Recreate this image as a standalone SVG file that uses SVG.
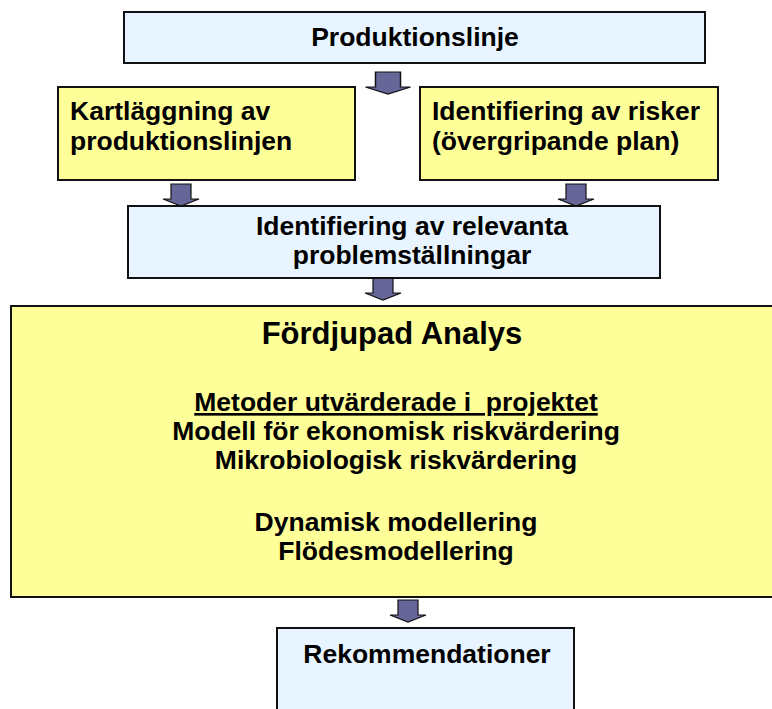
<svg xmlns="http://www.w3.org/2000/svg" width="772" height="709" viewBox="0 0 772 709">
<style>
.box{stroke:#111;stroke-width:2}
.blue{fill:#E8F4FF}
.yel{fill:#FFFF99}
text{font-family:"Liberation Sans",Arial,sans-serif;font-weight:bold;fill:#000;font-size:26.5px}
.c{text-anchor:middle}
.arr{fill:#666699;stroke:#111;stroke-width:1.2;stroke-linejoin:miter}
</style>
<defs>
<path id="arrow" class="arr" d="M-10,0 H10 V15 H18 L0,22 L-18,15 H-10 Z"/>
</defs>
<rect width="772" height="709" fill="#fff"/>
<g id="connectors">
<use href="#arrow" transform="translate(388,72) scale(1.25,1)"/>
<use href="#arrow" x="181" y="184"/>
<use href="#arrow" x="576" y="184"/>
<use href="#arrow" x="383" y="278"/>
<use href="#arrow" x="408" y="600"/>
</g>
<g id="produktionslinje">
<rect class="box blue" x="124" y="12" width="581" height="51"/>
<text class="c" x="415" y="46">Produktionslinje</text>
</g>
<g id="kartlaggning">
<rect class="box yel" x="58" y="87" width="297" height="93"/>
<text x="70" y="120">Kartläggning av</text>
<text x="70" y="150">produktionslinjen</text>
</g>
<g id="risker">
<rect class="box yel" x="420" y="87" width="298" height="93"/>
<text x="432" y="120">Identifiering av risker</text>
<text x="432" y="150">(övergripande plan)</text>
</g>
<g id="relevanta">
<rect class="box blue" x="128" y="206" width="532" height="72"/>
<text class="c" x="412" y="235">Identifiering av relevanta</text>
<text class="c" x="412" y="264">problemställningar</text>
</g>
<g id="fordjupad">
<rect class="box yel" x="11" y="306" width="770" height="291"/>
<text class="c" x="392" y="344" style="font-size:31px">Fördjupad Analys</text>
<text class="c" x="396" y="411" text-decoration="underline" xml:space="preserve">Metoder utvärderade i  projektet</text>
<text class="c" x="396" y="440">Modell för ekonomisk riskvärdering</text>
<text class="c" x="396" y="469">Mikrobiologisk riskvärdering</text>
<text class="c" x="396" y="531">Dynamisk modellering</text>
<text class="c" x="396" y="560">Flödesmodellering</text>
</g>
<g id="rekommendationer">
<rect class="box blue" x="277" y="628" width="297" height="90"/>
<text class="c" x="427" y="663">Rekommendationer</text>
</g>
</svg>
